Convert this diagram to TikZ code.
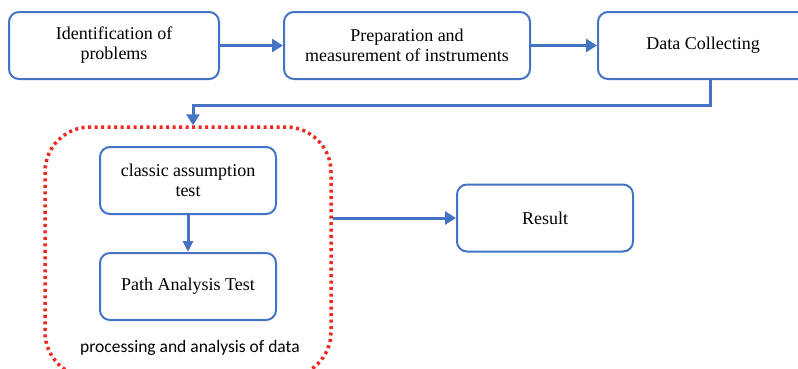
\documentclass[tikz,border=0pt]{standalone}
\usepackage{fontspec}
\setmainfont{Liberation Serif}
\newfontfamily\labelfont{Carlito}
\usetikzlibrary{arrows.meta}
\definecolor{stepblue}{HTML}{4472C4}
\definecolor{groupred}{HTML}{F0281E}
\newcommand{\boxcolor}{stepblue}
\newcommand{\groupcolor}{groupred}

\begin{document}
\begin{tikzpicture}[x=1pt,y=-1pt,
  stepbox/.style={draw=\boxcolor, line width=2pt, rounded corners=10pt, fill=white, align=center,
    minimum height=67pt, inner sep=2pt, font=\fontsize{18}{20}\selectfont},
  flow/.style={-{Triangle[length=11pt,width=13pt]}, draw=\boxcolor, line width=3.5pt},
  groupbox/.style={draw=\groupcolor, line width=3.5pt, dash pattern=on 3pt off 3.5pt, rounded corners=45pt,
    minimum width=286pt, minimum height=250pt}]

\useasboundingbox (0,0) rectangle (798,368);
\clip (0,0) rectangle (798,368);

% top row
\node[stepbox, minimum width=210pt] (ident) at (114, 45.5) {Identification of\\problems};
\node[stepbox, minimum width=246pt] (prep) at (407, 45.5) {Preparation and\\measurement of instruments};
\node[stepbox, minimum width=210pt] (collect) at (703, 45.5) {Data Collecting};

% processing group
\node[groupbox] (group) at (188, 252) {};
\node[stepbox, minimum width=176pt] (classic) at (188, 180.5) {classic assumption\\test};
\node[stepbox, minimum width=176pt] (pathtest) at (188, 286.5) {Path Analysis Test};
\node[font=\labelfont\fontsize{17.5}{20}\selectfont] (grouplabel) at (190, 348) {processing and analysis of data};

\node[stepbox, minimum width=176pt] (result) at (545, 218) {Result};

\coordinate (bend) at (193, 105);

\draw[flow] (ident) -- (prep);
\draw[flow] (prep) -- (collect);
\draw[flow, line width=3pt] ([xshift=7pt]collect.south) |- (bend) -- (bend |- group.north);
\draw[flow, line width=3pt, -{Triangle[length=11pt,width=10pt]}] (classic) -- (pathtest);
\draw[flow, line width=3pt] (group.east |- result.west) -- (result.west);

\end{tikzpicture}
\end{document}
